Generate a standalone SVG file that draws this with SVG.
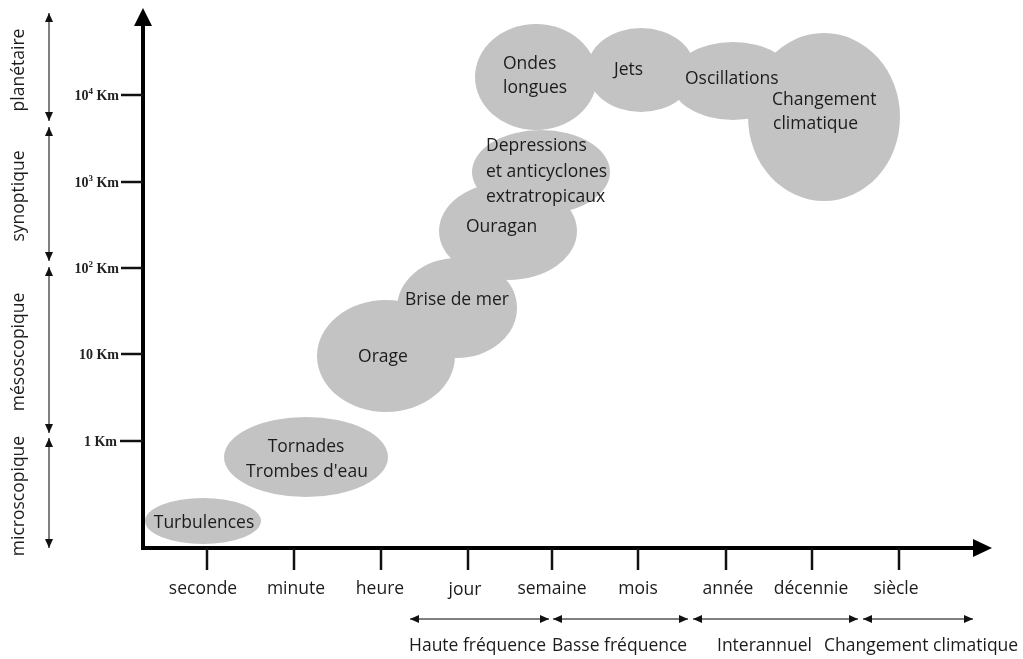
<svg xmlns="http://www.w3.org/2000/svg" width="1023" height="659" viewBox="0 0 1023 659">
<style>
.t{font-family:"Open Sans","Liberation Sans",sans-serif;font-size:17.5px;fill:#1c1c1c}
.c{text-anchor:middle}
.km{font-family:"Liberation Serif","Times New Roman",serif;font-size:14px;font-weight:bold;fill:#222;text-anchor:end}
.sup{font-size:9px}
.blob{fill:#c3c3c3;mix-blend-mode:darken}
.axis{stroke:#000;stroke-width:4;fill:none}
.tick{stroke:#111;stroke-width:2.5}
.rng{stroke:#555;stroke-width:1.5;marker-start:url(#ah);marker-end:url(#ah)}
</style>
<defs>
<marker id="ah" markerUnits="userSpaceOnUse" markerWidth="9" markerHeight="8" refX="9" refY="4" orient="auto-start-reverse"><path d="M0,0 L9,4 L0,8 z" fill="#111"/></marker>
</defs>
<rect width="1023" height="659" fill="#fff"/>

<g id="nodes">
<g id="turbulences"><ellipse class="blob" cx="203" cy="521" rx="58" ry="23"/><text class="t c" x="204" y="528">Turbulences</text></g>
<g id="tornades"><ellipse class="blob" cx="306" cy="457" rx="82" ry="40"/><text class="t c" x="306" y="452">Tornades</text><text class="t c" x="307" y="477">Trombes d'eau</text></g>
<g id="orage"><ellipse class="blob" cx="386" cy="356" rx="69" ry="56"/><text class="t c" x="383" y="362">Orage</text></g>
<g id="brise"><ellipse class="blob" cx="457" cy="308" rx="60" ry="50"/><text class="t c" x="457" y="305">Brise de mer</text></g>
<g id="ouragan"><ellipse class="blob" cx="508" cy="231" rx="69" ry="49"/><text class="t" x="466" y="232">Ouragan</text></g>
<g id="depressions"><ellipse class="blob" cx="541" cy="172" rx="69" ry="42"/><text class="t" x="486" y="151">Depressions</text><text class="t" x="486" y="177">et anticyclones</text><text class="t" x="486" y="202">extratropicaux</text></g>
<g id="ondes"><ellipse class="blob" cx="536" cy="77" rx="61" ry="53"/><text class="t" x="503" y="69">Ondes</text><text class="t" x="503" y="93">longues</text></g>
<g id="jets"><ellipse class="blob" cx="641" cy="70" rx="54" ry="42"/><text class="t" x="614" y="75">Jets</text></g>
<g id="oscillations"><ellipse class="blob" cx="733" cy="81" rx="62" ry="39"/><text class="t" x="685" y="84">Oscillations</text></g>
<g id="changement"><ellipse class="blob" cx="824" cy="117" rx="76" ry="84"/><text class="t" x="772" y="105">Changement</text><text class="t" x="773" y="129">climatique</text></g>
</g>

<g id="connectors">
<line class="axis" x1="143" y1="548" x2="143" y2="22"/>
<polygon points="143,8 134,26 152,26" fill="#000"/>
<line class="axis" x1="141" y1="548" x2="976" y2="548"/>
<polygon points="992,548 973,539 973,557" fill="#000"/>
<line class="tick" x1="121" y1="95" x2="143" y2="95"/>
<line class="tick" x1="121" y1="182" x2="143" y2="182"/>
<line class="tick" x1="121" y1="268" x2="143" y2="268"/>
<line class="tick" x1="121" y1="354" x2="143" y2="354"/>
<line class="tick" x1="120" y1="441" x2="143" y2="441"/>
<line class="tick" x1="207" y1="548" x2="207" y2="570"/>
<line class="tick" x1="294" y1="548" x2="294" y2="570"/>
<line class="tick" x1="381" y1="548" x2="381" y2="570"/>
<line class="tick" x1="468" y1="548" x2="468" y2="570"/>
<line class="tick" x1="552" y1="548" x2="552" y2="570"/>
<line class="tick" x1="638" y1="548" x2="638" y2="570"/>
<line class="tick" x1="726" y1="548" x2="726" y2="570"/>
<line class="tick" x1="812" y1="548" x2="812" y2="570"/>
<line class="tick" x1="899" y1="548" x2="899" y2="570"/>
<line class="rng" x1="49" y1="13" x2="49" y2="121"/>
<line class="rng" x1="49" y1="127" x2="49" y2="261"/>
<line class="rng" x1="49" y1="267" x2="49" y2="433"/>
<line class="rng" x1="49" y1="438" x2="49" y2="548"/>
<line class="rng" x1="410" y1="619" x2="549" y2="619"/>
<line class="rng" x1="553" y1="619" x2="688" y2="619"/>
<line class="rng" x1="693" y1="619" x2="858" y2="619"/>
<line class="rng" x1="863" y1="619" x2="973" y2="619"/>
</g>

<g id="y-labels">
<text class="km" x="119" y="100">10<tspan class="sup" dy="-6">4</tspan><tspan dy="6"> Km</tspan></text>
<text class="km" x="119" y="187">10<tspan class="sup" dy="-6">3</tspan><tspan dy="6"> Km</tspan></text>
<text class="km" x="119" y="273">10<tspan class="sup" dy="-6">2</tspan><tspan dy="6"> Km</tspan></text>
<text class="km" x="119" y="359">10 Km</text>
<text class="km" x="117" y="446">1 Km</text>
<text class="t c" transform="translate(24,70) rotate(-90)">planétaire</text>
<text class="t c" transform="translate(24,196) rotate(-90)">synoptique</text>
<text class="t c" transform="translate(24,352) rotate(-90)">mésoscopique</text>
<text class="t c" transform="translate(24,496) rotate(-90)">microscopique</text>
</g>

<g id="x-labels">
<text class="t c" x="203" y="594">seconde</text>
<text class="t c" x="296" y="594">minute</text>
<text class="t c" x="380" y="594">heure</text>
<text class="t c" x="465" y="595">jour</text>
<text class="t c" x="552" y="594">semaine</text>
<text class="t c" x="638" y="594">mois</text>
<text class="t c" x="728" y="594">année</text>
<text class="t c" x="811" y="594">décennie</text>
<text class="t c" x="896" y="594">siècle</text>
<text class="t" x="409" y="651">Haute fréquence</text>
<text class="t" x="552" y="651">Basse fréquence</text>
<text class="t" x="717" y="651">Interannuel</text>
<text class="t" x="824" y="651">Changement climatique</text>
</g>
</svg>
